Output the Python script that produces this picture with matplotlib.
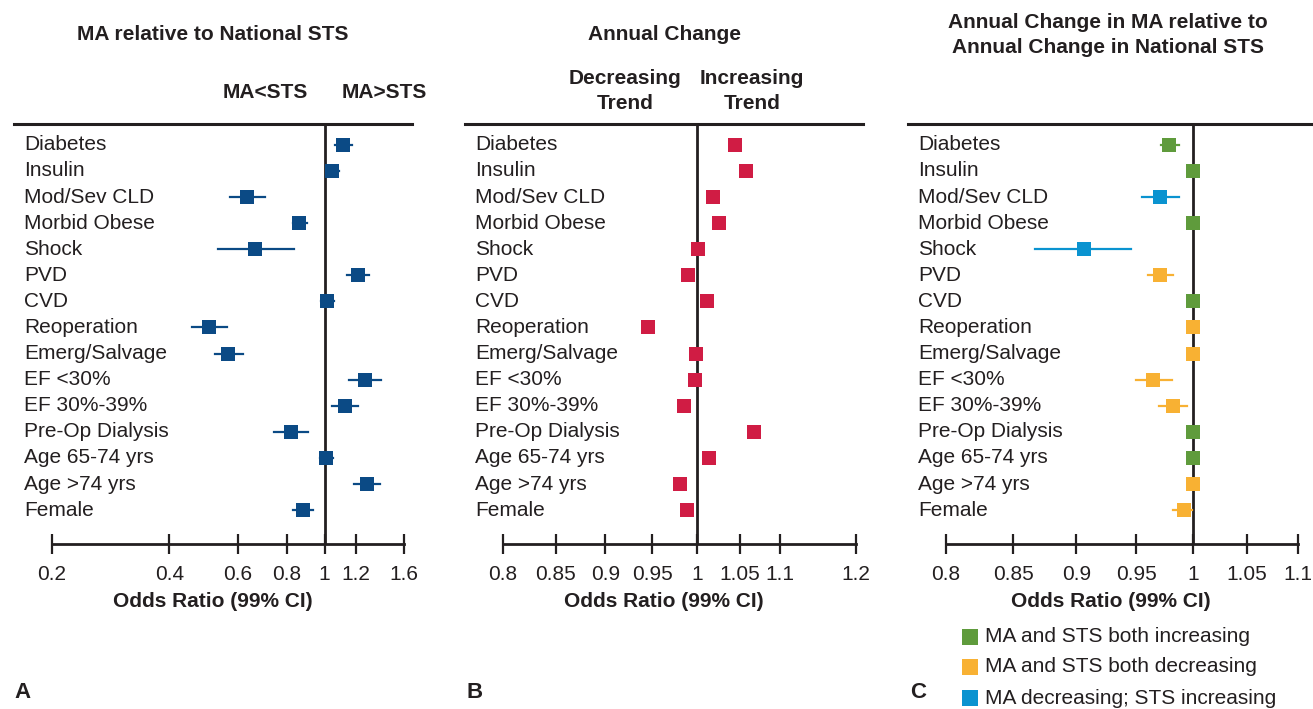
import matplotlib
matplotlib.use("Agg")
import matplotlib.pyplot as plt
import matplotlib.transforms as mtransforms
from matplotlib.ticker import FixedLocator, NullLocator
from matplotlib.patches import Rectangle

plt.rcParams['font.family'] = ['Liberation Sans', 'DejaVu Sans']

factors = ['Diabetes', 'Insulin', 'Mod/Sev CLD', 'Morbid Obese', 'Shock', 'PVD', 'CVD',
           'Reoperation', 'Emerg/Salvage', 'EF <30%', 'EF 30%-39%', 'Pre-Op Dialysis',
           'Age 65-74 yrs', 'Age >74 yrs', 'Female']

# A: MA relative to national STS
or_a = [1.116, 1.046, 0.633, 0.861, 0.664, 1.220, 1.016, 0.506, 0.566, 1.271, 1.130, 0.821, 1.010, 1.282, 0.882]
lo_a = [1.063, 1.014, 0.572, 0.828, 0.532, 1.143, 0.979, 0.458, 0.523, 1.157, 1.046, 0.743, 0.973, 1.189, 0.831]
hi_a = [1.175, 1.088, 0.702, 0.903, 0.833, 1.302, 1.059, 0.563, 0.617, 1.392, 1.216, 0.908, 1.049, 1.384, 0.932]

# B: annual change
or_b = [1.045, 1.058, 1.018, 1.025, 1.0015, 0.990, 1.012, 0.9456, 0.999, 0.998, 0.9855, 1.068, 1.014, 0.981, 0.989]

# C: annual change in MA relative to annual change in STS
or_c = [0.979, 1.0, 0.971, 1.0, 0.906, 0.971, 1.0, 1.0, 1.0, 0.965, 0.9826, 1.0, 1.0, 1.0, 0.9918]
lo_c = [0.972, 1.0, 0.955, 1.0, 0.867, 0.9606, 1.0, 1.0, 1.0, 0.950, 0.970, 1.0, 1.0, 1.0, 0.9826]
hi_c = [0.988, 1.0, 0.988, 1.0, 0.946, 0.982, 1.0, 1.0, 1.0, 0.981, 0.995, 1.0, 1.0, 1.0, 0.999]
group_c = ['inc', 'inc', 'dec_inc', 'inc', 'dec_inc', 'dec', 'inc', 'dec', 'dec', 'dec', 'dec',
           'inc', 'inc', 'dec', 'dec']

group_colors = {'inc': '#5f9b3c', 'dec': '#f8b133', 'dec_inc': '#0a93d0'}
group_labels = {'inc': 'MA and STS both increasing', 'dec': 'MA and STS both decreasing',
                'dec_inc': 'MA decreasing; STS increasing'}

ticks_a = [0.2, 0.4, 0.6, 0.8, 1, 1.2, 1.6]
ticks_b = [0.8, 0.85, 0.9, 0.95, 1, 1.05, 1.1, 1.2]
ticks_c = [0.8, 0.85, 0.9, 0.95, 1, 1.05, 1.1]

W, H = 1313, 709
fig = plt.figure(figsize=(W / 100, H / 100), dpi=100)

FS = 15
TXT = '#231f20'


def make_panel(left_px, right_px, xlim, ticks):
    ax = fig.add_axes([left_px / W, 1 - 544 / H, (right_px - left_px) / W, (544 - 124) / H])
    ax.set_xscale('log')
    ax.set_xlim(*xlim)
    ax.set_ylim(15.30, -0.80)
    ax.xaxis.set_major_locator(FixedLocator(ticks))
    ax.xaxis.set_minor_locator(NullLocator())
    ax.set_xticklabels(['%g' % t for t in ticks])
    ax.yaxis.set_major_locator(NullLocator())
    ax.yaxis.set_minor_locator(NullLocator())
    for s in ('left', 'right'):
        ax.spines[s].set_visible(False)
    ax.spines['top'].set_linewidth(2.2)
    ax.spines['top'].set_color(TXT)
    ax.spines['bottom'].set_linewidth(2)
    ax.spines['bottom'].set_color(TXT)
    ax.spines['bottom'].set_bounds(ticks[0], ticks[-1])
    ax.tick_params(axis='x', direction='inout', length=14, width=1.6, color=TXT,
                   labelsize=FS, labelcolor=TXT, pad=8)
    ax.axvline(1, color=TXT, lw=2, zorder=1)
    ax.set_xlabel('Odds Ratio (99% CI)', fontsize=FS, fontweight='bold', color=TXT, labelpad=6)
    ax.patch.set_alpha(0)
    trans = mtransforms.blended_transform_factory(ax.transAxes, ax.transData)
    for i, name in enumerate(factors):
        ax.text(0.025, i, name, transform=trans, fontsize=FS, color=TXT, va='center', ha='left')
    return ax


# panel A
ax_a = make_panel(14, 412, (0.1598, 1.675), ticks_a)
for i in range(len(factors)):
    ax_a.plot([lo_a[i], hi_a[i]], [i, i], color='#0b4a85', lw=1.6, zorder=3)
    ax_a.plot(or_a[i], i, 's', color='#0b4a85', ms=9.6, mew=0, zorder=4)

# panel B
ax_b = make_panel(465, 863, (0.766, 1.210), ticks_b)
for i in range(len(factors)):
    ax_b.plot(or_b[i], i, 's', color='#d01c44', ms=9.6, mew=0, zorder=4)

# panel C
ax_c = make_panel(908, 1313, (0.773, 1.1148), ticks_c)
for i in range(len(factors)):
    col = group_colors[group_c[i]]
    ax_c.plot([lo_c[i], hi_c[i]], [i, i], color=col, lw=1.6, zorder=3)
    ax_c.plot(or_c[i], i, 's', color=col, ms=9.6, mew=0, zorder=4)

# headings
fig.text(213 / W, 1 - 35 / H, 'MA relative to National STS', fontsize=FS, fontweight='bold',
         color=TXT, ha='center', va='center')
fig.text(265 / W, 1 - 92 / H, 'MA<STS', fontsize=FS, fontweight='bold', color=TXT,
         ha='center', va='center')
fig.text(384 / W, 1 - 92 / H, 'MA>STS', fontsize=FS, fontweight='bold', color=TXT,
         ha='center', va='center')
fig.text(664 / W, 1 - 35 / H, 'Annual Change', fontsize=FS, fontweight='bold', color=TXT,
         ha='center', va='center')
fig.text(625 / W, 1 - 91 / H, 'Decreasing\nTrend', fontsize=FS, fontweight='bold', color=TXT,
         ha='center', va='center', linespacing=1.45)
fig.text(752 / W, 1 - 91 / H, 'Increasing\nTrend', fontsize=FS, fontweight='bold', color=TXT,
         ha='center', va='center', linespacing=1.45)
fig.text(1108 / W, 1 - 35 / H, 'Annual Change in MA relative to\nAnnual Change in National STS',
         fontsize=FS, fontweight='bold', color=TXT, ha='center', va='center', linespacing=1.4)

# panel letters
for x, letter in [(14, 'A'), (467, 'B'), (910, 'C')]:
    fig.text(x / W, 1 - 692 / H, letter, fontsize=16, fontweight='bold', color=TXT,
             ha='left', va='center')

# legend for panel C
for y, key in [(637, 'inc'), (667, 'dec'), (698, 'dec_inc')]:
    fig.patches.append(Rectangle((962 / W, 1 - (y + 8) / H), 16 / W, 16 / H,
                                 transform=fig.transFigure, color=group_colors[key], lw=0))
    fig.text(985 / W, 1 - y / H, group_labels[key], fontsize=FS, color=TXT,
             ha='left', va='center')

fig.savefig('out.png', dpi=100)
